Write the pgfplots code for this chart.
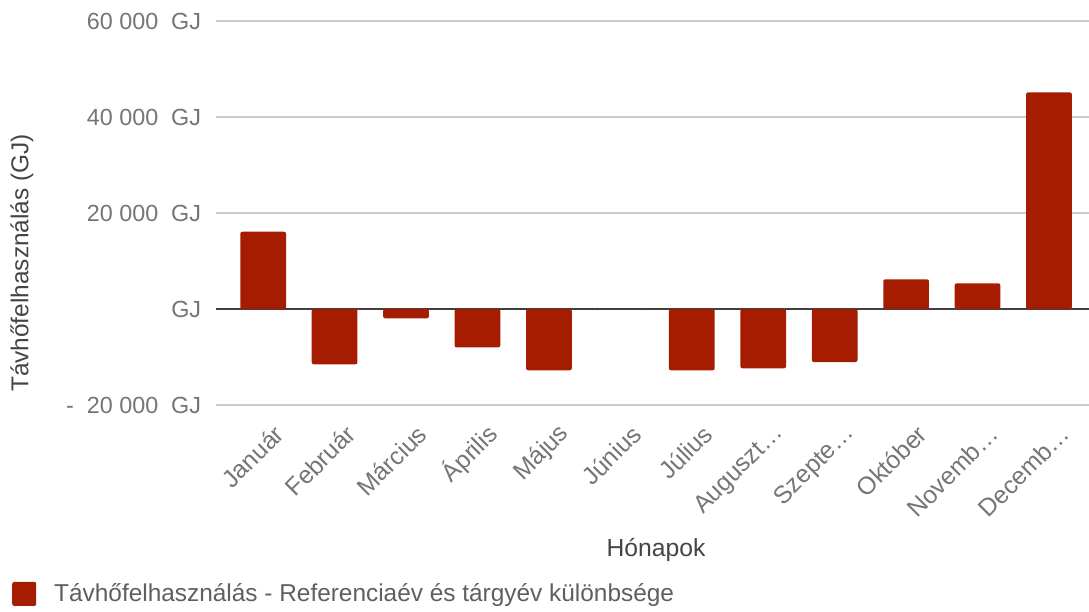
\documentclass[border=0pt]{standalone}
\usepackage{pgfplots}
\pgfplotsset{compat=1.18}
\usepackage{fontspec}
\setmainfont{Liberation Sans}
\definecolor{barred}{HTML}{A61C00}
\definecolor{ticktext}{HTML}{757575}
\definecolor{titletext}{HTML}{444444}
\definecolor{legtext}{HTML}{5F5F5F}
\begin{document}
\begin{tikzpicture}
\path[use as bounding box] (0pt,0pt) rectangle (816.75pt,-458.25pt);
\begin{axis}[
  at={(162pt,-303.75pt)}, anchor=south west,
  scale only axis, width=654.75pt, height=288pt,
  xmin=-0.66, xmax=11.56, ymin=-20000, ymax=60000,
  scaled y ticks=false,
  axis line style={draw=none},
  major tick style={draw=none},
  ymajorgrids, grid style={draw=black!20, line width=0.9pt},
  extra y ticks={0}, extra y tick labels={},
  extra y tick style={grid style={draw=black!75, line width=1.3pt}},
  ybar, bar width=0.64,
  xtick={0,...,11},
  xticklabels={Január,Február,Március,Április,Május,Június,Július,Auguszt…,Szepte…,Október,Novemb…,Decemb…},
  x tick label style={rotate=45, anchor=east, font=\fontsize{18.5}{20}\selectfont, text=ticktext, inner sep=0pt, xshift=-1.5pt, yshift=-18.75pt},
  ytick={-20000,0,20000,40000,60000},
  yticklabels={{-\ \ 20 000\ \ GJ},{GJ},{20 000\ \ GJ},{40 000\ \ GJ},{60 000\ \ GJ}},
  y tick label style={font=\fontsize{17.5}{20}\selectfont, text=ticktext, inner sep=0pt, anchor=east, xshift=-11pt},
  xlabel={Hónapok},
  xlabel style={at={(rel axis cs:0.504,-0.3776)}, anchor=center, font=\fontsize{18.5}{22}\selectfont, text=titletext},
  ylabel={Távhőfelhasználás (GJ)},
  ylabel style={at={(rel axis cs:-0.2222,0.3698)}, anchor=center, font=\fontsize{18.3}{22}\selectfont, text=titletext},
  legend style={at={(rel axis cs:-0.2337,-0.492)}, anchor=west, draw=none, fill=none, inner sep=0pt, font=\fontsize{18.3}{22}\selectfont, text=legtext, /tikz/every even column/.append style={column sep=0pt}},
  legend image code/.code={\fill[barred, rounded corners=1.5pt] (0pt,-9pt) rectangle (18pt,9pt);},
]
\addplot[fill=barred, draw=none, rounded corners=1.5pt] coordinates {
  (0,16100) (1,-11520) (2,-1940) (3,-7980) (4,-12770) (5,0)
  (6,-12770) (7,-12350) (8,-11040) (9,6190) (10,5350) (11,45150)
};
\addlegendentry{\hspace{11.5pt}Távhőfelhasználás - Referenciaév és tárgyév különbsége}
\end{axis}
\end{tikzpicture}
\end{document}
